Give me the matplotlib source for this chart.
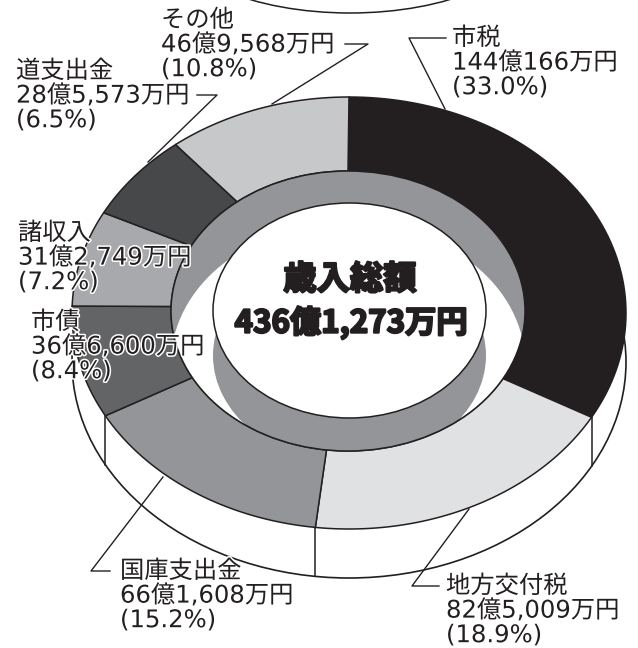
#!/usr/bin/env python3
"""Donut chart of the city's revenue for the year, drawn as a thick ring."""

import numpy as np
import matplotlib
matplotlib.use('agg')
import matplotlib.pyplot as plt
import matplotlib.patheffects as pe
from matplotlib.patches import Ellipse, Polygon

categories = ["市税", "地方交付税", "国庫支出金", "市債", "諸収入", "道支出金", "その他"]
amounts = [1440166, 825009, 661608, 366600, 312749, 285573, 469568]  # 万円
amount_labels = ["144億166万円", "82億5,009万円", "66億1,608万円", "36億6,600万円",
                 "31億2,749万円", "28億5,573万円", "46億9,568万円"]
percent_labels = ["(33.0%)", "(18.9%)", "(15.2%)", "(8.4%)", "(7.2%)", "(6.5%)", "(10.8%)"]
total_title = "歳入総額"
total_label = "436億1,273万円"

colors = ["#231f20", "#e0e1e3", "#939598", "#636466", "#a7a9ac", "#47484a", "#c7c8ca"]

CX, CY = 349, 313        # top face of the ring, pixels
RX, RY = 277, 216
INNER = (348, 311, 177, 140)
CORE = (349.5, 310.5, 136.5, 107.5)
DEPTH = 49
CORE_DEPTH = 45
LINE = "#231f20"

# left edge of the text, centre of first line, leader line
label_layout = {
    "市税": (452, 38, [(446, 38), (409, 38), (445, 109)]),
    "地方交付税": (446, 586, [(439, 586), (412, 586), (469, 509)]),
    "国庫支出金": (120, 571, [(110, 571), (91, 571), (163, 477)]),
    "市債": (31, 322, None),
    "諸収入": (18, 233, None),
    "道支出金": (16, 71, [(197, 95), (217, 95), (148, 162)]),
    "その他": (161, 20, [(345, 44), (368, 44), (272, 104)]),
}


def ellipse(spec, dy=0, **kwargs):
    x, y, rx, ry = spec
    return Ellipse((x, y + dy), 2 * rx, 2 * ry, **kwargs)


def arc(spec, start, end):
    x, y, rx, ry = spec
    t = np.linspace(start, end, 80)
    return np.column_stack([x + rx * np.sin(t), y - ry * np.cos(t)])


fig = plt.figure(figsize=(6.38, 6.48), dpi=100)
ax = fig.add_axes([0, 0, 1, 1])
ax.set_xlim(0, 638)
ax.set_ylim(648, 0)
ax.axis('off')

outer = (CX, CY, RX, RY)

# part of another ellipse cut off by the top of the picture
ax.add_patch(Ellipse((350, -67), 360, 160, fc='white', ec=LINE, lw=1.1))

# ring side
ax.add_patch(ellipse(outer, DEPTH, fc='white', ec=LINE, lw=1.2, zorder=1))

edges = np.cumsum([0] + amounts) / sum(amounts) * 2 * np.pi
for angle in edges[1:4]:
    p = arc(outer, angle, angle)[0]
    ax.plot([p[0], p[0]], [p[1], p[1] + DEPTH], color=LINE, lw=1.1, zorder=1.5)

# ring top
for i in range(len(amounts)):
    points = np.vstack([arc(outer, edges[i], edges[i + 1]),
                        arc(INNER, edges[i + 1], edges[i])])
    ax.add_patch(Polygon(points, closed=True, fc=colors[i], ec=LINE, lw=1.1, zorder=2))

# hole: grey wall, white floor, grey wall of the middle disc
hole = ellipse(INNER, fc=colors[2], ec='none', zorder=3)
ax.add_patch(hole)
floor = ellipse(INNER, DEPTH + 3, fc='white', ec='none', zorder=3.1)
ax.add_patch(floor)
floor.set_clip_path(hole)
core_wall = ellipse(CORE, CORE_DEPTH, fc=colors[2], ec='none', zorder=3.2)
ax.add_patch(core_wall)
core_wall.set_clip_path(hole)
ax.add_patch(ellipse(INNER, fc='none', ec=LINE, lw=1.1, zorder=3.3))
ax.add_patch(ellipse(CORE, fc='white', ec=LINE, lw=1.1, zorder=3.4))

# labels
label_font = ['DejaVu Sans', 'Noto Sans CJK JP']
halo = [pe.withStroke(linewidth=2.2, foreground='white')]
for name, amount, percent in zip(categories, amount_labels, percent_labels):
    x, y, leader = label_layout[name]
    for n, line in enumerate([name, amount, percent]):
        ax.text(x, y + n * 24.6, line, fontsize=17.5, family=label_font, color=LINE,
                ha='left', va='center', path_effects=halo, zorder=6)
    if leader:
        ax.plot(*zip(*leader), color=LINE, lw=1.0, zorder=5)

# total in the middle
heavy = [pe.withStroke(linewidth=1.6, foreground=LINE)]
ax.text(350, 280, total_title, fontsize=24, family='Noto Sans CJK JP', fontweight='bold',
        color=LINE, ha='center', va='center', path_effects=heavy, zorder=7)
ax.text(351, 323, total_label, fontsize=22.5, family='Noto Sans CJK JP', fontweight='bold',
        color=LINE, ha='center', va='center', path_effects=heavy, zorder=7)

plt.savefig("out.png", dpi=100)
